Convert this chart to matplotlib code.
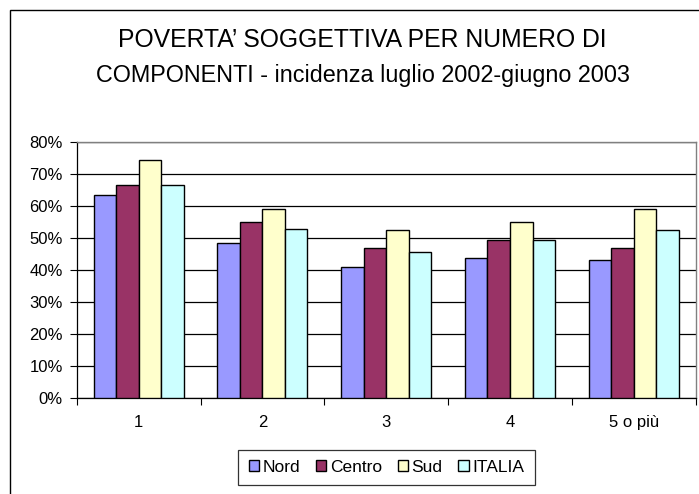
import matplotlib
matplotlib.use("Agg")
import matplotlib.pyplot as plt
import numpy as np
from matplotlib.patches import Rectangle
from matplotlib.ticker import FuncFormatter

categories = ["1", "2", "3", "4", "5 o più"]
nord = [63.4, 48.3, 41.0, 43.8, 43.0]
centro = [66.5, 54.9, 46.8, 49.3, 46.8]
sud = [74.2, 59.0, 52.4, 55.0, 59.0]
italia = [66.5, 52.9, 45.6, 49.3, 52.3]
series_names = ["Nord", "Centro", "Sud", "ITALIA"]
colors = ["#9999FF", "#993366", "#FFFFCC", "#CCFFFF"]

plt.rcParams['font.family'] = ['Liberation Sans', 'DejaVu Sans']

W, H = 699, 494
fig = plt.figure(figsize=(W/100, H/100), dpi=100)

# outer chart frame
fig.patches.append(Rectangle((10/W, -0.1), 1.0, (H-10)/H + 0.1, transform=fig.transFigure,
                             fill=False, edgecolor="black", linewidth=1.0))

ax = fig.add_axes([76.7/W, (H-398)/H, (695.7-76.7)/W, (398-141.7)/H])

x = np.arange(len(categories))
n = len(series_names)
group = 4/5.5
bw = group/n
for i, (vals, name, c) in enumerate(zip([nord, centro, sud, italia], series_names, colors)):
    ax.bar(x - group/2 + bw*(i+0.5), vals, width=bw, color=c, edgecolor="black",
           linewidth=1.0, label=name, zorder=3)

ax.set_xlim(-0.5, len(categories)-0.5)
ax.set_ylim(0, 80)
ax.set_yticks(np.arange(0, 81, 10))
ax.yaxis.set_major_formatter(FuncFormatter(lambda v, p: f"{int(v)}%"))
ax.yaxis.grid(True, color="black", linewidth=0.9, zorder=0)
ax.set_axisbelow(True)

ax.set_xticks(x)
ax.set_xticklabels(categories)
ax.set_xticks(np.arange(-0.5, len(categories), 1), minor=True)
ax.tick_params(axis='x', which='major', length=0, pad=12, labelsize=12)
ax.tick_params(axis='x', which='minor', length=5, width=0.8, direction='out')
ax.tick_params(axis='y', length=5, width=0.8, direction='out', labelsize=12, pad=5)

for s in ["top", "right"]:
    ax.spines[s].set_color("#808080")
    ax.spines[s].set_linewidth(1.0)
for s in ["left", "bottom"]:
    ax.spines[s].set_color("black")
    ax.spines[s].set_linewidth(0.9)

fig.text(362/W, 1 - 40/H, "POVERTA’ SOGGETTIVA PER NUMERO DI",
         ha="center", va="center", fontsize=17.8)
fig.text(363/W, 1 - 75/H, "COMPONENTI - incidenza luglio 2002-giugno 2003",
         ha="center", va="center", fontsize=16.8)

leg = fig.legend(loc="center", bbox_to_anchor=(386.5/W, 1 - 467.5/H), ncol=4,
                 frameon=True, fancybox=False, edgecolor="black", fontsize=12.5,
                 handlelength=0.6, handleheight=0.6, handletextpad=0.2,
                 columnspacing=0.9, borderpad=0.6)
leg.get_frame().set_linewidth(0.9)

fig.savefig("out.png", dpi=100)
